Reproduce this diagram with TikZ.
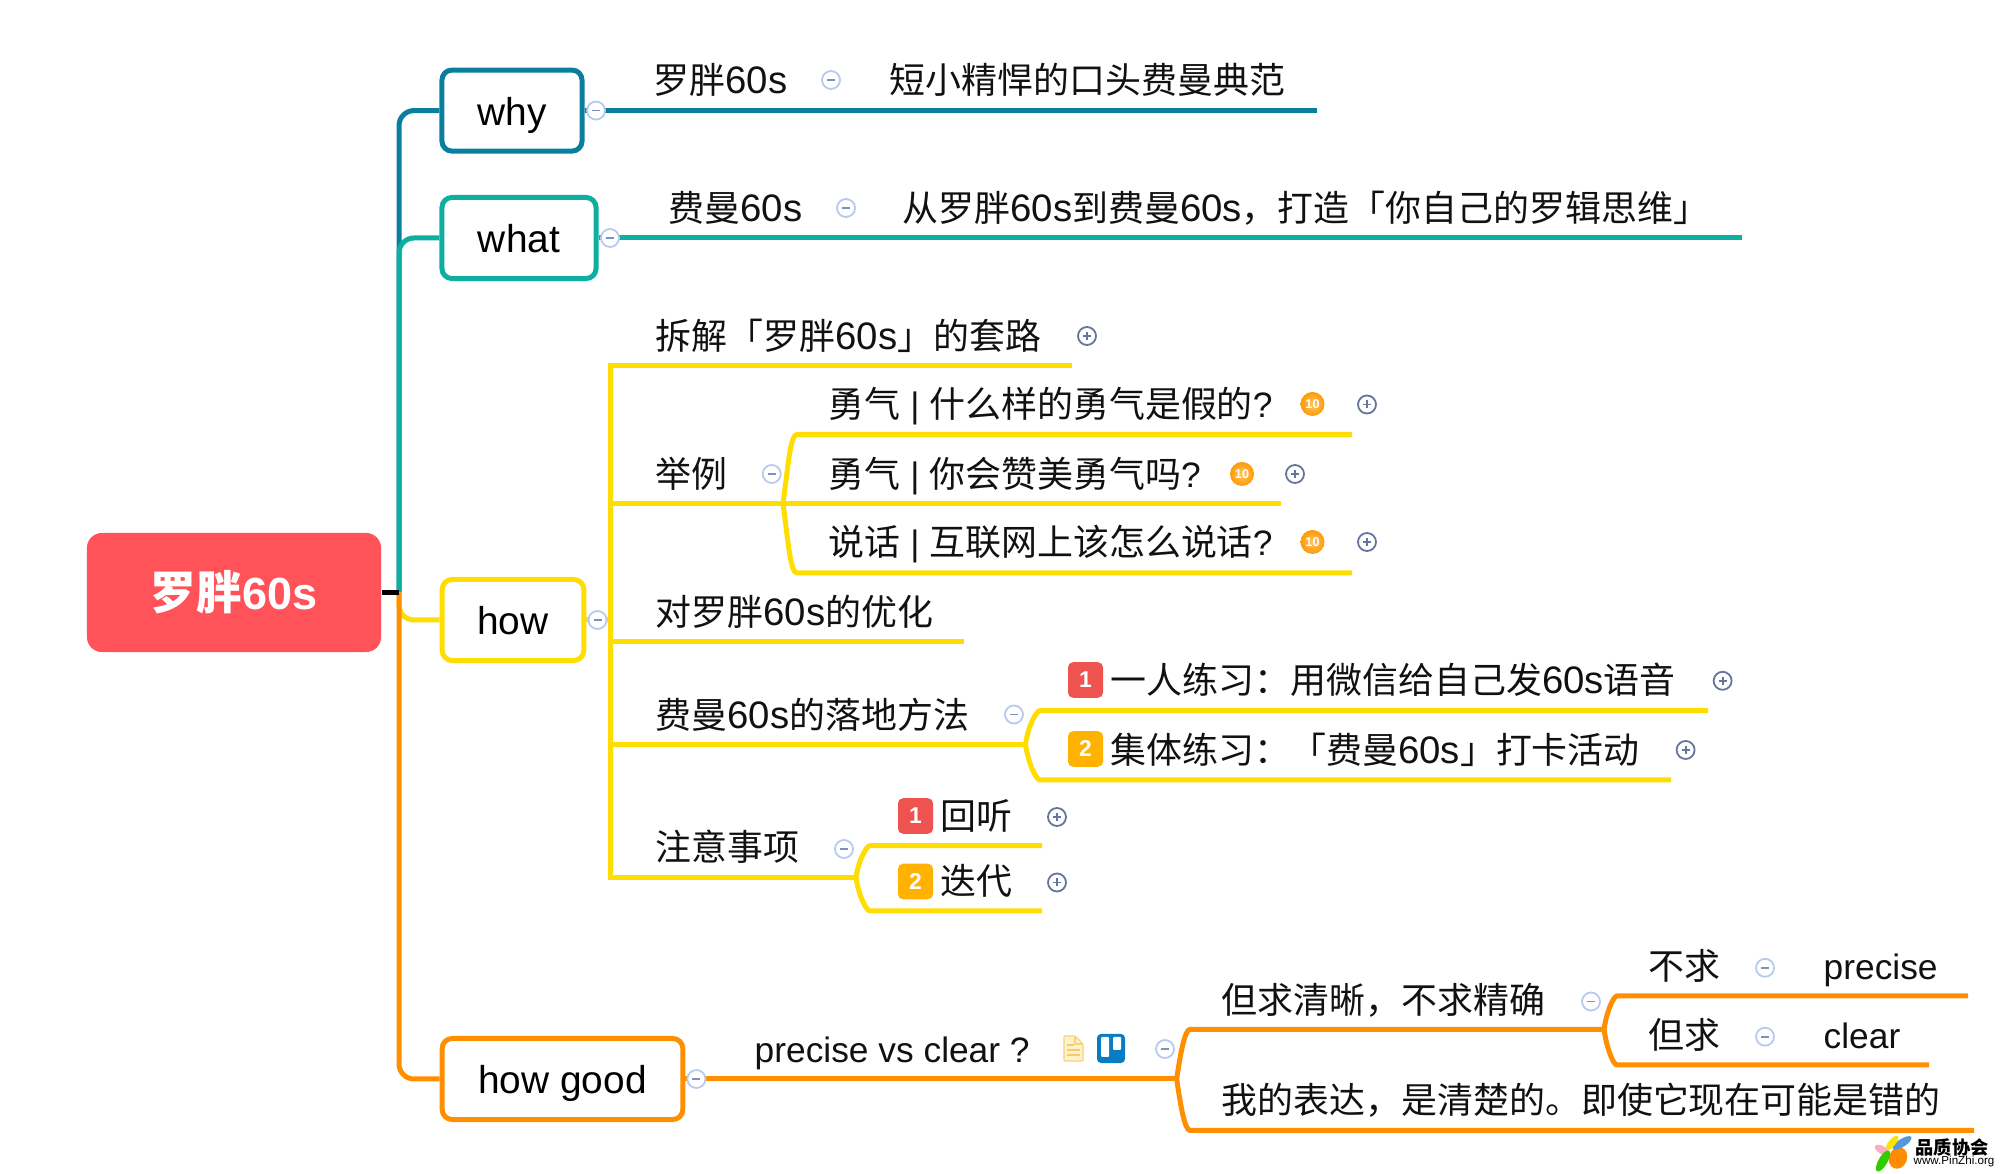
\documentclass[tikz,border=0pt]{standalone}
\usepackage{fontspec}
\setmainfont{Liberation Sans}
\newfontfamily\hanfont[Scale=1.017]{Noto Sans CJK SC}
\newcommand{\han}[1]{{\hanfont #1}}
\newcommand{\sixtys}{{\fontsize{10.9}{13}\selectfont 60s}}

\begin{document}
\begin{tikzpicture}[x=0.01cm,y=-0.01cm,
  branch/.style={line width=0.05cm},
  topicbox/.style={draw,line width=0.05cm,rounded corners=0.1cm,minimum height=0.81cm,inner sep=0,
    text height=0.335cm,text depth=0.044cm,font=\fontsize{11.05}{13}\selectfont},
  sublabel/.style={anchor=west,inner sep=0,text height=0.31cm,text depth=0.04cm,text=inktext,
    font=\fontsize{10.05}{13}\selectfont},
  btn/.style={circle,draw=#1,fill=white,line width=0.018cm,minimum size=0.18cm,inner sep=0},
  minusbtn/.style={btn=minusedge,path picture={
    \draw[minusink,line width=0.018cm] ([xshift=-0.04cm]path picture bounding box.center) -- ([xshift=0.04cm]path picture bounding box.center);}},
  plusbtn/.style={btn=plusedge,path picture={
    \draw[plusedge,line width=0.018cm] ([xshift=-0.04cm]path picture bounding box.center) -- ([xshift=0.04cm]path picture bounding box.center);
    \draw[plusedge,line width=0.018cm] ([yshift=-0.04cm]path picture bounding box.center) -- ([yshift=0.04cm]path picture bounding box.center);}},
  coin/.style={circle,inner color=coinpale,outer color=coinorange,minimum size=0.24cm,inner sep=0,text=white,
    font=\fontsize{3.6}{4}\selectfont\bfseries},
  badge/.style={fill=#1,rounded corners=0.05cm,minimum width=0.35cm,minimum height=0.355cm,inner sep=0,text=white,
    font=\fontsize{6.5}{8}\selectfont\bfseries}]
\definecolor{rootred}{HTML}{FF5359}
\definecolor{whyblue}{HTML}{0A7F9D}
\definecolor{whatteal}{HTML}{0DB0A0}
\definecolor{howyellow}{HTML}{FFDD00}
\definecolor{goodorange}{HTML}{FF8F00}
\definecolor{inktext}{HTML}{111111}
\definecolor{minusedge}{HTML}{B9CAEF}
\definecolor{minusink}{HTML}{7F90BE}
\definecolor{plusedge}{HTML}{65759C}
\definecolor{coinorange}{HTML}{FF9A05}
\definecolor{coinpale}{HTML}{FFC766}
\definecolor{badgered}{HTML}{EF5350}
\definecolor{badgeamber}{HTML}{FFB300}
\definecolor{notefill}{HTML}{FFF1C9}
\definecolor{noteedge}{HTML}{F6D27C}
\definecolor{trelloblue}{HTML}{0A7CC4}
\useasboundingbox (0,0) rectangle (2000,1174);

% main topics
\node[fill=rootred,rounded corners=0.15cm,minimum width=2.94cm,minimum height=1.19cm,inner sep=0,text=white,
  font=\fontsize{12.8}{15}\selectfont\bfseries] (root) at (234,592.5) {\han{罗胖}60s};
\coordinate (trunk) at (399,592.5);
\node[topicbox,draw=whyblue,minimum width=1.4cm] (why) at (512,110.6) {why};
\node[topicbox,draw=whatteal,minimum width=1.54cm] (what) at (519,238) {what};
\node[topicbox,draw=howyellow,minimum width=1.415cm] (how) at (513,620) {how};
\node[topicbox,draw=goodorange,minimum width=2.405cm] (good) at (562.5,1079) {how good};

% free ends and forks
\foreach \nm/\x/\y in {whyend/1317/110.6,whatend/1742/238,howfork/610/620,howtop/610/365.5,howbot/610/877.5,
  splitend/1072/365.5,exfork/783/503.6,exmidend/1281/503.6,optend/964/641.7,landfork/1025.5/744.3,
  noticefork/856/877.5,goodfork/1176.7/1079,clearfork/1604/1029.4,
  exa/797/434.4,exaend/1352/434.4,exc/797/573,excend/1352/573,
  landa/1040/710.6,landaend/1708/710.6,landb/1040/780,landbend/1671/780,
  noticea/870/845.7,noticeaend/1042/845.7,noticeb/870/911,noticebend/1042/911,
  goodup/1190/1029.4,gooddown/1190/1130.4,gooddownend/1974/1130.4,
  clearup/1617/996,clearupend/1968/996,cleardown/1617/1065,cleardownend/1929/1065}
  {\coordinate (\nm) at (\x,\y);}

% connectors from the root
\draw[branch,whyblue,rounded corners=0.15cm] (trunk) |- (why.west);
\draw[branch,whatteal,rounded corners=0.15cm] (trunk) |- (what.west);
\draw[branch,howyellow,rounded corners=0.15cm] (trunk) |- (how.west);
\draw[branch,goodorange,rounded corners=0.15cm] (trunk) |- (good.west);
\draw[branch,black] (root.east) -- (trunk);

% branch lines
\draw[branch,whyblue] (why.east) -- (whyend);
\draw[branch,whatteal] (what.east) -- (whatend);
\draw[branch,howyellow] (how.east) -- (howfork);
\draw[branch,howyellow] (splitend) -- (howtop) -- (howbot) -- (noticefork);
\draw[branch,howyellow] (howtop |- exfork) -- (exmidend);
\draw[branch,howyellow] (howtop |- optend) -- (optend);
\draw[branch,howyellow] (howtop |- landfork) -- (landfork);
\draw[branch,goodorange] (good.east) -- (goodfork);

% the curved forks
\foreach \clr/\fork/\out/\elbow/\tip in {howyellow/exfork/82/exa/exaend,howyellow/exfork/-82/exc/excend,
  howyellow/landfork/82/landa/landaend,howyellow/landfork/-82/landb/landbend,
  howyellow/noticefork/82/noticea/noticeaend,howyellow/noticefork/-82/noticeb/noticebend,
  goodorange/goodfork/82/goodup/clearfork,goodorange/goodfork/-82/gooddown/gooddownend,
  goodorange/clearfork/82/clearup/clearupend,goodorange/clearfork/-82/cleardown/cleardownend}
  {\draw[branch,\clr] (\fork) to[out=\out,in=180,out looseness=1.3,in looseness=0.25] (\elbow) -- (\tip);}

% labels
\foreach \nm/\x/\y/\txt in {whyname/653/80/{\han{罗胖}\sixtys},whyline/889/80/{\han{短小精悍的口头费曼典范}},
  whatname/668/208/{\han{费曼}\sixtys},whatline/902/208/{\han{从罗胖}\sixtys\han{到费曼}\sixtys\han{，打造「你自己的罗辑思维」}},
  split/655/336/{\han{拆解「罗胖}\sixtys\han{」的套路}},
  example/655/474/{\han{举例}},
  brave/828/404.5/{\han{勇气} | \han{什么样的勇气是假的}?},
  praise/828/474/{\han{勇气} | \han{你会赞美勇气吗}?},
  speak/828/542/{\han{说话} | \han{互联网上该怎么说话}?},
  optim/655/612/{\han{对罗胖}\sixtys\han{的优化}},
  land/655/714.5/{\han{费曼}\sixtys\han{的落地方法}},
  solo/1110/680/{\han{一人练习：用微信给自己发}\sixtys\han{语音}},
  group/1110/749.7/{\han{集体练习：「费曼}\sixtys\han{」打卡活动}},
  notice/655/847/{\han{注意事项}},
  listen/940/816/{\han{回听}},
  iterate/940/881/{\han{迭代}},
  pvc/754/1049/{precise vs clear ?},
  clearonly/1221/999.6/{\han{但求清晰，不求精确}},
  notwant/1648/966/{\han{不求}},notword/1823/966/{precise},
  want/1648/1035/{\han{但求}},wantword/1823/1035/{clear},
  mine/1221/1100/{\han{我的表达，是清楚的。即使它现在可能是错的}}}
  {\node[sublabel] (\nm) at (\x,\y) {\txt};}

% badges and coins
\foreach \nm/\x/\y/\clr/\num in {solobadge/1085.5/680/badgered/1,groupbadge/1085.5/749/badgeamber/2,
  listenbadge/915.5/816/badgered/1,iterbadge/915.5/881.5/badgeamber/2}
  {\node[badge=\clr] (\nm) at (\x,\y) {\num};}
\foreach \nm/\x/\y in {bravecoin/1312.5/404,praisecoin/1242/474,speakcoin/1312.5/542}
  {\node[coin] (\nm) at (\x,\y) {10};}

% note and board icons
\filldraw[fill=notefill,draw=noteedge,line width=0.012cm,rounded corners=0.01cm] (1064,1036) -- (1075,1036) -- (1083,1044) -- (1083,1061) -- (1064,1061) -- cycle;
\draw[noteedge,line width=0.012cm] (1075,1036) -- (1075,1044) -- (1083,1044);
\draw[noteedge!90!orange,line width=0.014cm] (1067,1045) -- (1074,1045) (1067,1050) -- (1080,1050) (1067,1055) -- (1080,1055);
\node[fill=trelloblue,rounded corners=0.04cm,minimum width=0.28cm,minimum height=0.29cm,inner sep=0] (board) at (1111,1048.5) {};
\fill[white,rounded corners=0.01cm] (1101,1037) rectangle (1109,1057);
\fill[white,rounded corners=0.01cm] (1113,1037) rectangle (1121,1050);

% collapse buttons
\foreach \nm/\x/\y in {whybtn/596/110.6,whynamebtn/831/80,whatbtn/610/238,whatnamebtn/846/208,howbtn/597.5/620,
  exbtn/771.7/474,landbtn/1014/714.5,noticebtn/844/849,goodbtn/696.4/1079,pvcbtn/1165/1049,
  clearbtn/1591/1001.5,notbtn/1765/967.8,wantbtn/1765/1036.7}
  {\node[minusbtn] (\nm) at (\x,\y) {};}
\foreach \nm/\x/\y in {splitbtn/1087/336,bravebtn/1367/404.5,praisebtn/1295/474,speakbtn/1367/542,
  solobtn/1722.6/680.8,groupbtn/1685.6/750,listenbtn/1057/817,iterbtn/1057/882.5}
  {\node[plusbtn] (\nm) at (\x,\y) {};}

% watermark
\fill[orange!90!yellow,rotate around={70:(1898,1158)}] (1898,1158) ellipse (11 and 9);
\fill[cyan!60!blue!70,rotate around={33:(1902,1143)}] (1902,1143) ellipse (11 and 4);
\fill[yellow!85!orange,rotate around={50:(1892,1143)}] (1892,1143) ellipse (9 and 3.5);
\fill[pink!90!magenta,rotate around={-30:(1882,1150)}] (1882,1150) ellipse (8 and 4);
\fill[green!60!olive,rotate around={60:(1883,1161)}] (1883,1161) ellipse (12 and 4.5);
\node[inner sep=0,font=\fontsize{5.1}{6}\selectfont\bfseries] (wmname) at (1952,1147) {\han{品质协会}};
\node[inner sep=0,font=\fontsize{3.3}{4}\selectfont] (wmsite) at (1954,1162) {www.PinZhi.org};
\end{tikzpicture}
\end{document}
